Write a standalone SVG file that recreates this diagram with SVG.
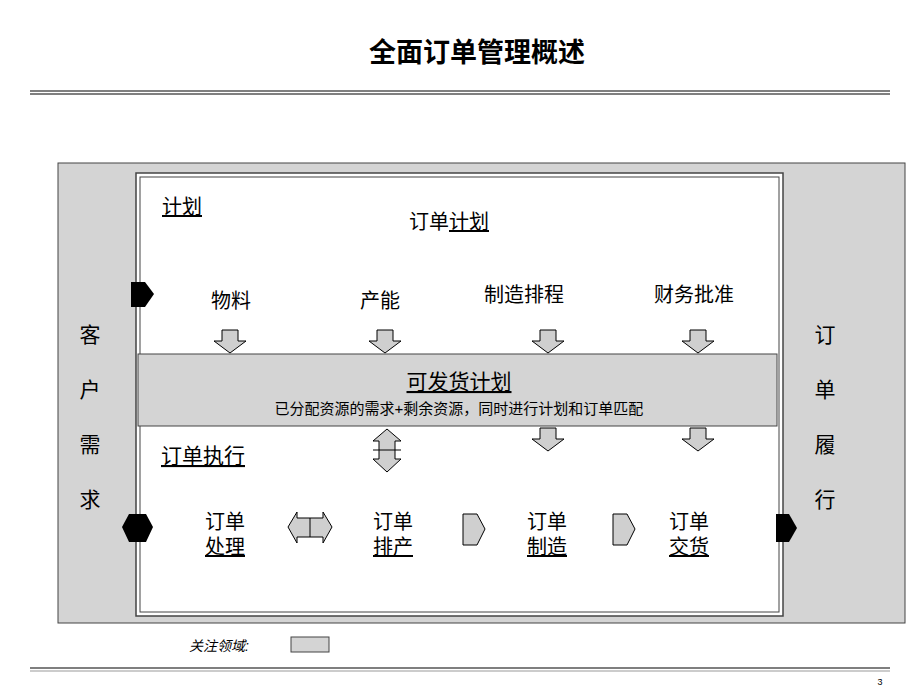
<svg xmlns="http://www.w3.org/2000/svg" width="920" height="690" viewBox="0 0 920 690">
<style>
text{font-family:"Liberation Sans","Noto Sans CJK SC",sans-serif;fill:#000;text-anchor:middle}
.t{font-size:20px}
.u{text-decoration:underline}
.g{fill:#cfcfcf;stroke:#000;stroke-width:1}
.gw{fill:#d4d4d4;stroke:#444;stroke-width:1}
.k{fill:#000}
</style>
<rect width="920" height="690" fill="#fff"/>
<text x="477" y="62" style="font-size:27px;font-weight:bold">全面订单管理概述</text>
<line x1="30" y1="91" x2="890" y2="91" stroke="#555" stroke-width="1.5"/>
<line x1="30" y1="94" x2="890" y2="94" stroke="#555" stroke-width="1.5"/>
<g id="frame">
<rect x="58" y="163" width="847" height="460" class="gw" stroke-width="2"/>
<rect x="136" y="173" width="647" height="443" fill="#fff" stroke="#444" stroke-width="1.5"/>
<rect x="140" y="177" width="639" height="435" fill="none" stroke="#444" stroke-width="1"/>
</g>
<g id="band">
<rect x="138" y="354" width="639" height="72" class="gw"/>
<text x="459" y="389" class="u" style="font-size:21px">可发货计划</text>
<text x="459" y="414" style="font-size:15px">已分配资源的需求+剩余资源，同时进行计划和订单匹配</text>
</g>
<g id="labels">
<text x="162" y="214" class="t u" style="text-anchor:start">计划</text>
<text x="449" y="229" class="t">订单<tspan class="u">计划</tspan></text>
<text x="231" y="308" class="t">物料</text>
<text x="380" y="308" class="t">产能</text>
<text x="524" y="302" class="t">制造排程</text>
<text x="694" y="302" class="t">财务批准</text>
<text x="161" y="463" class="t u" style="text-anchor:start;font-size:21px">订单执行</text>
<text x="225" y="529" class="t">订单</text><text x="225" y="554" class="t u">处理</text>
<text x="393" y="529" class="t">订单</text><text x="393" y="554" class="t u">排产</text>
<text x="547" y="529" class="t">订单</text><text x="547" y="554" class="t u">制造</text>
<text x="689" y="529" class="t">订单</text><text x="689" y="554" class="t u">交货</text>
<text x="90" y="342" class="t" style="font-size:21px">客</text>
<text x="90" y="397" class="t" style="font-size:21px">户</text>
<text x="90" y="452" class="t" style="font-size:21px">需</text>
<text x="90" y="507" class="t" style="font-size:21px">求</text>
<text x="825" y="342" class="t" style="font-size:21px">订</text>
<text x="825" y="397" class="t" style="font-size:21px">单</text>
<text x="825" y="452" class="t" style="font-size:21px">履</text>
<text x="825" y="507" class="t" style="font-size:21px">行</text>
</g>
<g id="connectors">
<polygon class="g" points="222,330 238,330 238,341 246,341 230,353 214,341 222,341"/>
<polygon class="g" points="377,330 393,330 393,341 401,341 385,353 369,341 377,341"/>
<polygon class="g" points="540,330 556,330 556,341 564,341 548,353 532,341 540,341"/>
<polygon class="g" points="690,330 706,330 706,341 714,341 698,353 682,341 690,341"/>
<polygon class="g" points="540,428 556,428 556,439 564,439 548,451 532,439 540,439"/>
<polygon class="g" points="690,428 706,428 706,439 714,439 698,451 682,439 690,439"/>
<polygon class="g" points="387,429 401,441 395,441 395,459 401,459 387,472 373,459 379,459 379,441 373,441"/>
<line x1="373" y1="450" x2="401" y2="450" stroke="#000"/>
<polygon class="g" points="288,527 297,512 297,518 323,518 323,512 332,527 323,543 323,537 297,537 297,543"/>
<line x1="310" y1="518" x2="310" y2="537" stroke="#000"/>
<polygon class="g" points="463,514 477,514 485,529 477,545 463,545"/>
<polygon class="g" points="613,514 627,514 635,529 627,545 613,545"/>
<polygon class="k" points="131,282 145,282 154,294 145,307 131,307"/>
<polygon class="k" points="122,527 129,514 146,514 153,527 146,542 129,542"/>
<polygon class="k" points="776,514 789,514 797,528 789,542 776,542"/>
</g>
<g id="legend">
<text x="219" y="651" style="font-size:14px;font-style:italic">关注领域:</text>
<rect x="291" y="637" width="38" height="15" class="gw"/>
</g>
<line x1="30" y1="668" x2="890" y2="668" stroke="#555" stroke-width="1.5"/>
<line x1="30" y1="671" x2="890" y2="671" stroke="#999" stroke-width="1"/>
<text x="880" y="685" style="font-size:9px">3</text>
</svg>
